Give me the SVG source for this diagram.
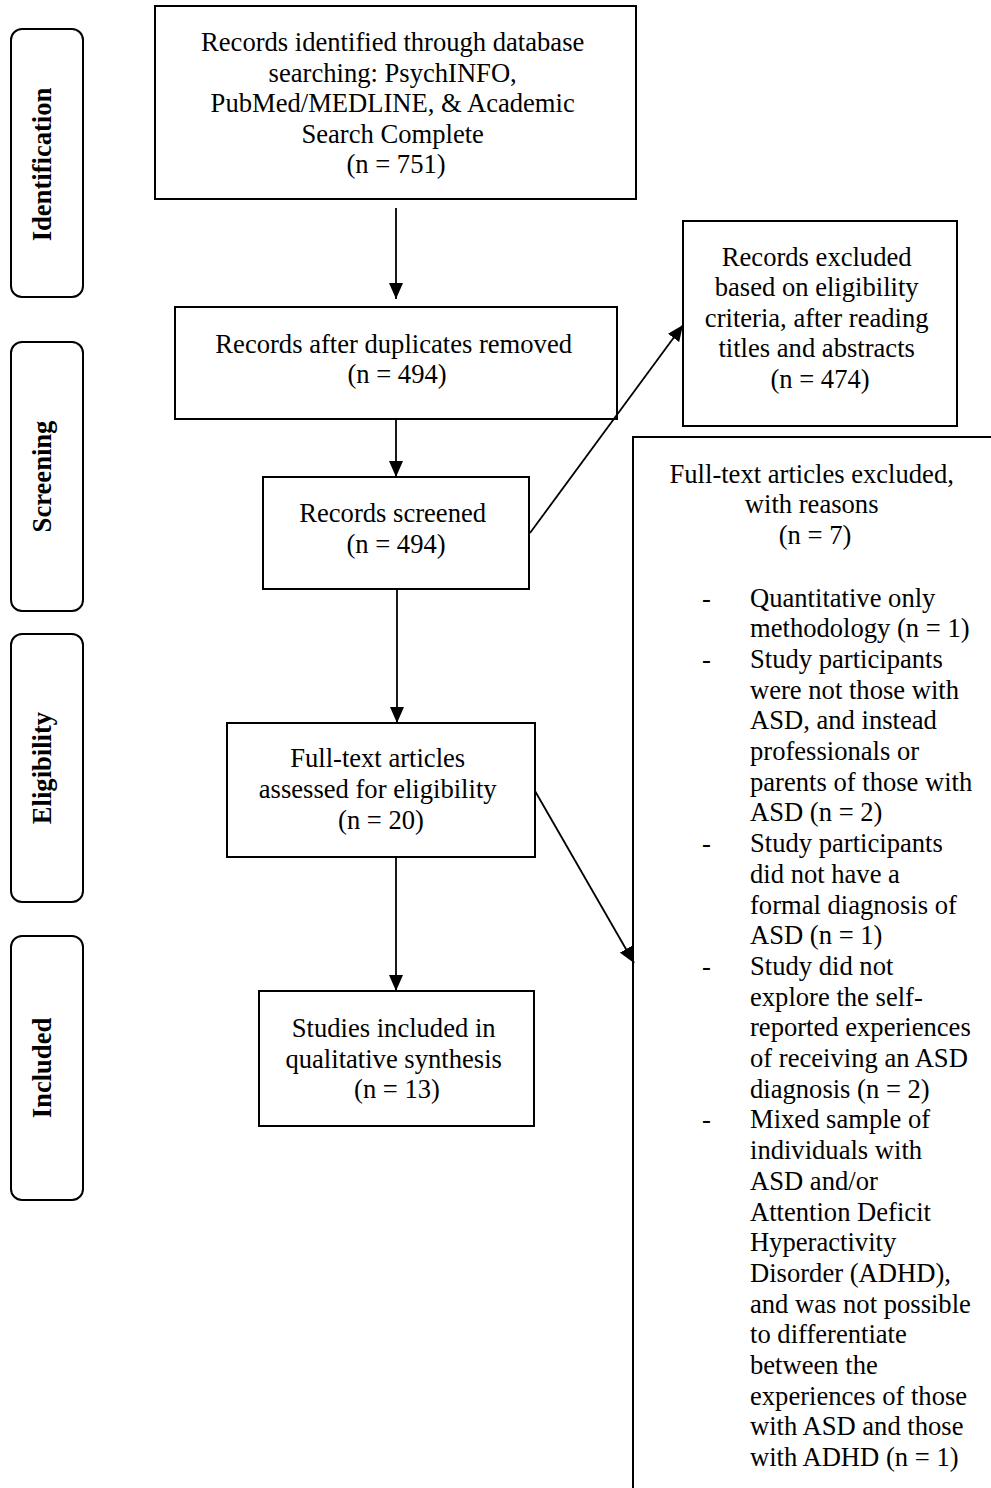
<svg xmlns="http://www.w3.org/2000/svg" width="991" height="1488" viewBox="0 0 991 1488">
<style>
  .box { fill: #ffffff; stroke: #000000; stroke-width: 2; }
  .stage { fill: #ffffff; stroke: #000000; stroke-width: 2; }
  .t { font-family: "Liberation Serif", "Times New Roman", serif; font-size: 26.6px; fill: #000000; }
  .c { text-anchor: middle; }
  .lab { font-family: "Liberation Serif", "Times New Roman", serif; font-size: 26.6px; font-weight: bold; fill: #000000; text-anchor: middle; }
  .conn { stroke: #000000; stroke-width: 1.8; fill: none; marker-end: url(#arr); }
</style>
<defs>
  <marker id="arr" viewBox="0 0 16 14" refX="16" refY="7" markerWidth="16" markerHeight="14" markerUnits="userSpaceOnUse" orient="auto">
    <path d="M0,0 L16,7 L0,14 Z" fill="#000000"/>
  </marker>
</defs>
<rect x="0" y="0" width="991" height="1488" fill="#ffffff"/>

<g id="stage-identification">
  <rect class="stage" x="11" y="29" width="72" height="268" rx="11" ry="11"/>
  <text class="lab" transform="translate(51,164.5) rotate(-90)">Identification</text>
</g>
<g id="stage-screening">
  <rect class="stage" x="11" y="342" width="72" height="269" rx="11" ry="11"/>
  <text class="lab" transform="translate(51,476.5) rotate(-90)">Screening</text>
</g>
<g id="stage-eligibility">
  <rect class="stage" x="11" y="634" width="72" height="268" rx="11" ry="11"/>
  <text class="lab" transform="translate(51,768) rotate(-90)">Eligibility</text>
</g>
<g id="stage-included">
  <rect class="stage" x="11" y="936" width="72" height="264" rx="11" ry="11"/>
  <text class="lab" transform="translate(51,1068) rotate(-90)">Included</text>
</g>

<g id="node-identified">
  <rect class="box" x="155" y="6" width="481" height="193"/>
  <text class="t c" x="396">
    <tspan x="396" y="51">Records identified through database</tspan>
    <tspan x="396" y="81.5">searching: PsychINFO,</tspan>
    <tspan x="396" y="112">PubMed/MEDLINE, &amp; Academic</tspan>
    <tspan x="396" y="142.5">Search Complete</tspan>
    <tspan x="396" y="173">(n = 751)</tspan>
  </text>
</g>

<g id="node-duplicates">
  <rect class="box" x="175" y="307" width="442" height="112"/>
  <text class="t c">
    <tspan x="397" y="352.5">Records after duplicates removed</tspan>
    <tspan x="397" y="383">(n = 494)</tspan>
  </text>
</g>

<g id="node-screened">
  <rect class="box" x="263" y="477" width="266" height="112"/>
  <text class="t c">
    <tspan x="396" y="521.5">Records screened</tspan>
    <tspan x="396" y="553">(n = 494)</tspan>
  </text>
</g>

<g id="node-excluded-records">
  <rect class="box" x="683" y="221" width="274" height="205"/>
  <text class="t c">
    <tspan x="820" y="265.5">Records excluded</tspan>
    <tspan x="820" y="296">based on eligibility</tspan>
    <tspan x="820" y="326.5">criteria, after reading</tspan>
    <tspan x="820" y="357">titles and abstracts</tspan>
    <tspan x="820" y="388">(n = 474)</tspan>
  </text>
</g>

<g id="node-assessed">
  <rect class="box" x="227" y="723" width="308" height="134"/>
  <text class="t c">
    <tspan x="381" y="766.5">Full-text articles</tspan>
    <tspan x="381" y="797.5">assessed for eligibility</tspan>
    <tspan x="381" y="829">(n = 20)</tspan>
  </text>
</g>

<g id="node-included">
  <rect class="box" x="259" y="991" width="275" height="135"/>
  <text class="t c">
    <tspan x="397" y="1036.5">Studies included in</tspan>
    <tspan x="397" y="1067.5">qualitative synthesis</tspan>
    <tspan x="397" y="1098">(n = 13)</tspan>
  </text>
</g>

<g id="node-excluded-fulltext">
  <rect class="box" x="633" y="437" width="400" height="1100"/>
  <text class="t c">
    <tspan x="815" y="483">Full-text articles excluded,</tspan>
    <tspan x="815" y="513">with reasons</tspan>
    <tspan x="815" y="544">(n = 7)</tspan>
  </text>
  <text class="t">
    <tspan x="702" y="606.5">-</tspan>
    <tspan x="702" y="667.9">-</tspan>
    <tspan x="702" y="852.1">-</tspan>
    <tspan x="702" y="974.9">-</tspan>
    <tspan x="702" y="1128.4">-</tspan>
  </text>
  <text class="t">
    <tspan x="750" y="606.5">Quantitative only</tspan>
    <tspan x="750" y="637.2">methodology (n = 1)</tspan>
    <tspan x="750" y="667.9">Study participants</tspan>
    <tspan x="750" y="698.6">were not those with</tspan>
    <tspan x="750" y="729.3">ASD, and instead</tspan>
    <tspan x="750" y="760">professionals or</tspan>
    <tspan x="750" y="790.7">parents of those with</tspan>
    <tspan x="750" y="821.4">ASD (n = 2)</tspan>
    <tspan x="750" y="852.1">Study participants</tspan>
    <tspan x="750" y="882.8">did not have a</tspan>
    <tspan x="750" y="913.5">formal diagnosis of</tspan>
    <tspan x="750" y="944.2">ASD (n = 1)</tspan>
    <tspan x="750" y="974.9">Study did not</tspan>
    <tspan x="750" y="1005.6">explore the self-</tspan>
    <tspan x="750" y="1036.3">reported experiences</tspan>
    <tspan x="750" y="1067">of receiving an ASD</tspan>
    <tspan x="750" y="1097.7">diagnosis (n = 2)</tspan>
    <tspan x="750" y="1128.4">Mixed sample of</tspan>
    <tspan x="750" y="1159.1">individuals with</tspan>
    <tspan x="750" y="1189.8">ASD and/or</tspan>
    <tspan x="750" y="1220.5">Attention Deficit</tspan>
    <tspan x="750" y="1251.2">Hyperactivity</tspan>
    <tspan x="750" y="1281.9">Disorder (ADHD),</tspan>
    <tspan x="750" y="1312.6">and was not possible</tspan>
    <tspan x="750" y="1343.3">to differentiate</tspan>
    <tspan x="750" y="1374">between the</tspan>
    <tspan x="750" y="1404.7">experiences of those</tspan>
    <tspan x="750" y="1435.4">with ASD and those</tspan>
    <tspan x="750" y="1466.1">with ADHD (n = 1)</tspan>
  </text>
</g>

<g id="connectors">
  <line class="conn" x1="396" y1="208" x2="396" y2="299"/>
  <line class="conn" x1="396" y1="419" x2="396" y2="477"/>
  <line class="conn" x1="397" y1="589" x2="397" y2="723"/>
  <line class="conn" x1="396" y1="857" x2="396" y2="991"/>
  <line class="conn" x1="530" y1="533" x2="683" y2="325"/>
  <line class="conn" x1="535" y1="791" x2="634" y2="963"/>
</g>
</svg>
